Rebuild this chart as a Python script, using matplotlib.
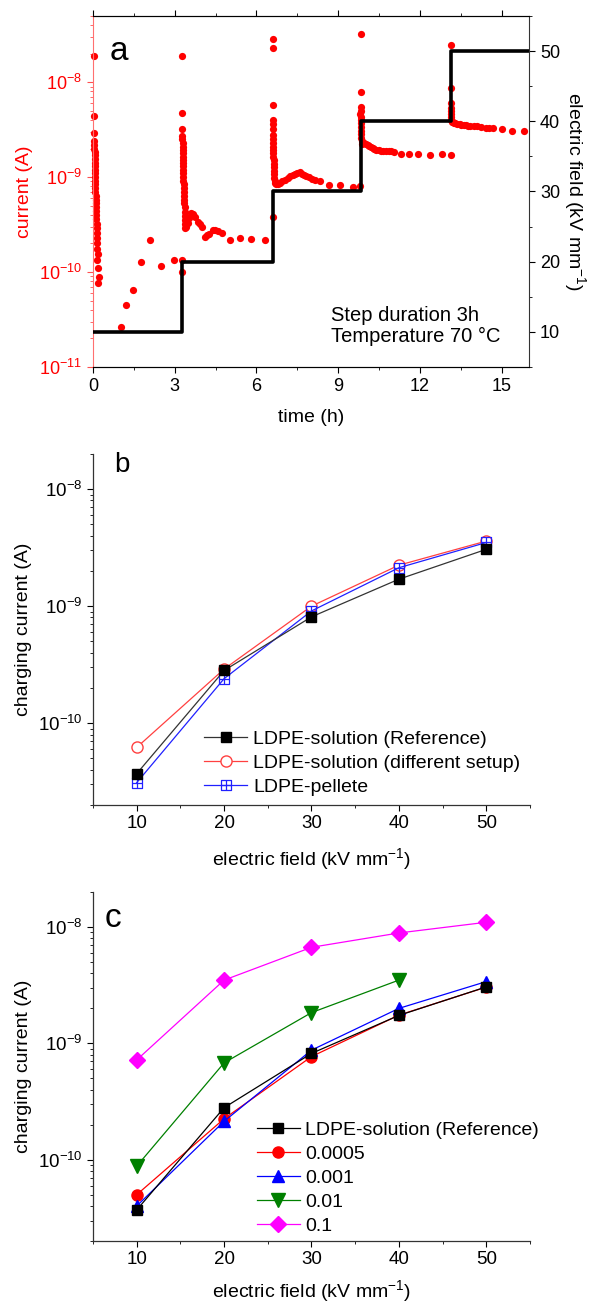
import numpy as np
import matplotlib
matplotlib.use('Agg')
import matplotlib.pyplot as plt
from matplotlib.path import Path
from matplotlib.ticker import MultipleLocator, LogLocator, NullFormatter

plt.rcParams['font.family'] = ['Liberation Sans', 'DejaVu Sans']
plt.rcParams['mathtext.fontset'] = 'custom'
plt.rcParams['mathtext.rm'] = 'Liberation Sans'
plt.rcParams['mathtext.it'] = 'Liberation Sans:italic'
plt.rcParams['mathtext.bf'] = 'Liberation Sans:bold'

# ---- panel a: current vs time ----
seg1_t = [0.03, 0.04, 0.04, 0.05, 0.05, 0.05, 0.06, 0.06, 0.06, 0.07, 0.07, 0.07,
          0.08, 0.08, 0.08, 0.09, 0.09, 0.09, 0.10, 0.10, 0.10, 0.11, 0.11, 0.12,
          0.12, 0.13, 0.13, 0.14, 0.14, 0.15, 0.16, 0.17, 0.15, 0.20, 0.23, 0.19,
          1.02, 1.21, 1.46, 1.75, 2.10, 2.50, 2.99, 3.26, 3.27]
seg1_i = [1.9e-8, 4.4e-9, 2.9e-9, 2.4e-9, 2.2e-9, 2.0e-9, 1.85e-9, 1.7e-9, 1.55e-9,
          1.42e-9, 1.3e-9, 1.2e-9, 1.1e-9, 1.0e-9, 9.2e-10, 8.4e-10, 7.7e-10, 7.0e-10,
          6.4e-10, 5.8e-10, 5.3e-10, 4.8e-10, 4.4e-10, 4.0e-10, 3.6e-10, 3.2e-10,
          2.9e-10, 2.6e-10, 2.3e-10, 2.0e-10, 1.74e-10, 1.55e-10, 1.35e-10, 1.1e-10,
          8.9e-11, 7.6e-11,
          2.65e-11, 4.5e-11, 6.4e-11, 1.27e-10, 2.2e-10, 1.17e-10, 1.34e-10, 1.35e-10, 1.0e-10]

seg2_t = [3.28, 3.28, 3.28,
          3.28, 3.28, 3.29, 3.29, 3.29, 3.30, 3.30, 3.30, 3.31, 3.31, 3.31, 3.32, 3.32,
          3.32, 3.33, 3.33, 3.34, 3.34, 3.35, 3.35, 3.36, 3.36, 3.37, 3.37, 3.38, 3.38,
          3.42, 3.47, 3.52, 3.60, 3.67, 3.75, 3.87, 3.94, 4.00, 4.12, 4.20, 4.26, 4.42,
          4.49, 4.60, 4.73, 5.04, 5.38, 5.81, 6.32, 6.59]
seg2_i = [1.9e-8, 4.7e-9, 3.2e-9,
          2.7e-9, 2.5e-9, 2.3e-9, 2.1e-9, 1.95e-9, 1.8e-9, 1.65e-9, 1.52e-9, 1.4e-9,
          1.3e-9, 1.2e-9, 1.1e-9, 1.0e-9, 9.2e-10, 8.4e-10, 7.7e-10, 7.0e-10, 6.4e-10,
          5.8e-10, 5.3e-10, 4.8e-10, 4.3e-10, 3.9e-10, 3.5e-10, 3.2e-10, 2.9e-10,
          3.0e-10, 3.3e-10, 3.7e-10, 4.2e-10, 4.1e-10, 3.8e-10, 3.4e-10, 3.2e-10, 2.95e-10,
          2.33e-10, 2.45e-10, 2.5e-10, 2.77e-10, 2.8e-10, 2.7e-10, 2.6e-10, 2.2e-10,
          2.3e-10, 2.25e-10, 2.2e-10, 3.8e-10]

seg3_t = [6.60, 6.60, 6.60, 6.60, 6.60, 6.60, 6.60,
          6.60, 6.60, 6.61, 6.61, 6.62, 6.62, 6.63, 6.63, 6.64, 6.64, 6.65, 6.66, 6.67, 6.68,
          6.72, 6.78, 6.88, 6.95, 7.06, 7.15, 7.24, 7.33, 7.43, 7.50, 7.58, 7.66, 7.73,
          7.82, 7.92, 8.04, 8.15, 8.32, 8.65, 9.06, 9.55, 9.80]
seg3_i = [2.84e-8, 2.32e-8, 5.8e-9, 4.0e-9, 3.6e-9, 3.2e-9, 2.8e-9,
          2.5e-9, 2.3e-9, 2.1e-9, 1.95e-9, 1.8e-9, 1.65e-9, 1.5e-9, 1.38e-9, 1.27e-9,
          1.17e-9, 1.07e-9, 9.8e-10, 9.0e-10, 8.6e-10,
          8.4e-10, 8.5e-10, 8.7e-10, 9.0e-10, 9.3e-10, 9.8e-10, 1.02e-9, 1.05e-9, 1.09e-9,
          1.1e-9, 1.12e-9, 1.08e-9, 1.05e-9, 1.02e-9, 1.0e-9, 9.6e-10, 9.4e-10, 9.1e-10,
          8.2e-10, 8.3e-10, 7.9e-10, 8.0e-10]

seg4_t = [9.83, 9.83, 9.82, 9.82, 9.81, 9.82, 9.83, 9.82, 9.83, 9.84, 9.84, 9.85, 9.86, 9.87,
          9.90, 9.96, 10.02, 10.08, 10.14, 10.20, 10.26, 10.32, 10.40, 10.48, 10.56, 10.65,
          10.75, 10.85, 10.95, 11.05, 11.29, 11.59, 11.94, 12.35, 12.80, 13.13]
seg4_i = [3.2e-8, 7.9e-9, 5.5e-9, 5.0e-9, 4.6e-9, 4.3e-9, 4.0e-9, 3.7e-9, 3.4e-9, 3.1e-9,
          2.85e-9, 2.6e-9, 2.4e-9, 2.25e-9,
          2.3e-9, 2.27e-9, 2.24e-9, 2.2e-9, 2.14e-9, 2.07e-9, 2.02e-9, 1.98e-9, 1.94e-9,
          1.91e-9, 1.9e-9, 1.89e-9, 1.89e-9, 1.88e-9, 1.88e-9, 1.86e-9, 1.74e-9, 1.74e-9,
          1.74e-9, 1.73e-9, 1.74e-9, 1.73e-9]

seg5_t = [13.12, 13.12, 13.12, 13.13, 13.13, 13.14, 13.14, 13.15, 13.16,
          13.20, 13.25, 13.30, 13.37, 13.45, 13.52, 13.60, 13.68, 13.76, 13.85, 13.98,
          14.10, 14.23, 14.41, 14.55, 14.69, 15.00, 15.36, 15.80]
seg5_i = [2.45e-8, 8.6e-9, 6.0e-9, 5.4e-9, 5.0e-9, 4.6e-9, 4.3e-9, 4.0e-9, 3.85e-9,
          3.8e-9, 3.75e-9, 3.7e-9, 3.67e-9, 3.62e-9, 3.58e-9, 3.55e-9, 3.52e-9, 3.5e-9,
          3.47e-9, 3.45e-9, 3.42e-9, 3.38e-9, 3.33e-9, 3.3e-9, 3.27e-9, 3.2e-9, 3.08e-9,
          3.08e-9]

# applied field steps
step_edges = [0, 3.27, 6.60, 9.82, 13.12, 16.0]
step_field = [10, 20, 30, 40, 50]

# ---- panels b and c: charging current vs field ----
field = [10, 20, 30, 40, 50]
ref_solution = [3.7e-11, 2.82e-10, 8.1e-10, 1.70e-9, 3.06e-9]
diff_setup = [6.2e-11, 2.9e-10, 1.0e-9, 2.24e-9, 3.6e-9]
pellete = [3.1e-11, 2.4e-10, 9.1e-10, 2.13e-9, 3.5e-9]

ref_c = [3.7e-11, 2.8e-10, 8.2e-10, 1.74e-9, 3.06e-9]
c_0005 = [5.0e-11, 2.25e-10, 7.7e-10, 1.75e-9, 3.05e-9]
c_001 = [4.0e-11, 2.14e-10, 8.75e-10, 2.0e-9, 3.4e-9]
field_001 = [10, 20, 30, 40]
c_01 = [8.8e-11, 6.8e-10, 1.84e-9, 3.5e-9]
c_1 = [7.2e-10, 3.5e-9, 6.7e-9, 8.9e-9, 1.1e-8]

RED = '#ff0000'


def style_axes(ax):
    ax.tick_params(which='major', direction='out', length=4.5, width=0.8, labelsize=13.5, pad=3)
    ax.tick_params(which='minor', direction='out', length=2.5, width=0.6)
    for s in ['left', 'bottom']:
        ax.spines[s].set_linewidth(0.9)
        ax.spines[s].set_color('#333333')
    ax.spines['top'].set_visible(False)
    ax.spines['right'].set_visible(False)


fig = plt.figure(figsize=(5.9, 13.04), dpi=100)

# ================= a =================
ax = fig.add_axes([0.1576, 0.7186, 0.7390, 0.2692])
ax2 = ax.twinx()
for t, i in [(seg1_t, seg1_i), (seg2_t, seg2_i), (seg3_t, seg3_i), (seg4_t, seg4_i), (seg5_t, seg5_i)]:
    ax.plot(t, i, 'o', color=RED, ms=5.2, mec=RED, mew=0, clip_on=False)
ax.set_yscale('log')
ax.set_ylim(1e-11, 5e-8)
ax.set_xlim(0, 16)
ax.xaxis.set_major_locator(MultipleLocator(3))
ax.xaxis.set_minor_locator(MultipleLocator(1.5))
ax.yaxis.set_major_locator(LogLocator(base=10, numticks=10))
ax.yaxis.set_minor_locator(LogLocator(base=10, subs=np.arange(2, 10), numticks=20))
ax.yaxis.set_minor_formatter(NullFormatter())
ax.tick_params(which='major', direction='out', length=4.5, width=0.8, labelsize=13, top=True)
ax.tick_params(which='minor', direction='out', length=2.5, width=0.6, top=True)
ax.tick_params(axis='y', which='both', colors='#ff5050', labelcolor=RED)
ax.spines['left'].set_color('#ff7070')
ax.spines['right'].set_visible(False)
for s in ['top', 'bottom']:
    ax.spines[s].set_color('#333333')
ax.set_ylabel('current (A)', color=RED, fontsize=14, labelpad=4)
ax.set_xlabel('time (h)', fontsize=14, labelpad=10)

ax2.step(step_edges, step_field + [step_field[-1]], where='post', color='black', lw=2.6)
ax2.set_ylim(5, 55)
ax2.yaxis.set_major_locator(MultipleLocator(10))
ax2.yaxis.set_minor_locator(MultipleLocator(5))
ax2.tick_params(which='major', direction='out', length=4.5, width=0.8, labelsize=13)
ax2.tick_params(which='minor', direction='out', length=2.5, width=0.6)
ax2.spines['left'].set_visible(False)
ax2.spines['right'].set_color('#333333')
ax2.set_ylabel('electric field (kV mm$^{-1}$)', fontsize=14, rotation=270, labelpad=20)
ax2.text(0.547, 0.175, 'Step duration 3h\nTemperature 70 °C', transform=ax2.transAxes,
         fontsize=14.5, ha='left', va='top', linespacing=1.15)
ax2.text(0.038, 0.873, 'a', transform=ax2.transAxes, fontsize=24, ha='left', va='baseline')

# ================= b =================
box_cross = Path([(-1, -1), (1, -1), (1, 1), (-1, 1), (-1, -1), (0, -1), (0, 1), (-1, 0), (1, 0)],
                 [Path.MOVETO, Path.LINETO, Path.LINETO, Path.LINETO, Path.CLOSEPOLY,
                  Path.MOVETO, Path.LINETO, Path.MOVETO, Path.LINETO])

bx = fig.add_axes([0.1576, 0.3827, 0.7407, 0.2692])
bx.plot(field, ref_solution, '-s', color='#333333', mfc='black', mec='black', ms=7.5, lw=0.9,
        label='LDPE-solution (Reference)', zorder=5)
bx.plot(field, diff_setup, '-o', color='#ff4040', mfc='white', mec='#ff4040', ms=8, lw=0.9,
        label='LDPE-solution (different setup)', zorder=3)
bx.plot(field, pellete, '-', marker=box_cross, color='#2020ff', mfc='none', mec='#2020ff', ms=7,
        mew=0.9, lw=0.9, label='LDPE-pellete', zorder=4)
bx.set_yscale('log')
bx.set_ylim(2e-11, 2e-8)
bx.set_xlim(5, 55)
bx.xaxis.set_major_locator(MultipleLocator(10))
bx.xaxis.set_minor_locator(MultipleLocator(5))
bx.yaxis.set_major_locator(LogLocator(base=10, numticks=10))
bx.yaxis.set_minor_locator(LogLocator(base=10, subs=np.arange(2, 10), numticks=20))
bx.yaxis.set_minor_formatter(NullFormatter())
style_axes(bx)
bx.set_ylabel('charging current (A)', fontsize=14, labelpad=4)
bx.set_xlabel('electric field (kV mm$^{-1}$)', fontsize=14, labelpad=10)
bx.legend(loc='upper left', bbox_to_anchor=(0.255, 0.212), frameon=False, fontsize=14,
          handlelength=2.2, handletextpad=0.3, labelspacing=0.33, borderpad=0, borderaxespad=0)
bx.text(0.048, 0.949, 'b', transform=bx.transAxes, fontsize=20, ha='left', va='baseline')

# ================= c =================
cx = fig.add_axes([0.1576, 0.0483, 0.7407, 0.2676])
cx.plot(field, ref_c, '-s', color='black', ms=7.5, lw=0.9, label='LDPE-solution (Reference)', zorder=6)
cx.plot(field, c_0005, '-o', color='#ff0000', ms=8, lw=0.9, label='0.0005', zorder=3)
cx.plot(field, c_001, '-^', color='#0000ff', ms=9, lw=0.9, label='0.001', zorder=4)
cx.plot(field_001, c_01, '-v', color='#008000', ms=9.5, lw=0.9, label='0.01', zorder=3)
cx.plot(field, c_1, '-D', color='#ff00ff', ms=8.3, lw=0.9, label='0.1', zorder=3)
cx.set_yscale('log')
cx.set_ylim(2e-11, 2e-8)
cx.set_xlim(5, 55)
cx.xaxis.set_major_locator(MultipleLocator(10))
cx.xaxis.set_minor_locator(MultipleLocator(5))
cx.yaxis.set_major_locator(LogLocator(base=10, numticks=10))
cx.yaxis.set_minor_locator(LogLocator(base=10, subs=np.arange(2, 10), numticks=20))
cx.yaxis.set_minor_formatter(NullFormatter())
style_axes(cx)
cx.set_ylabel('charging current (A)', fontsize=14, labelpad=4)
cx.set_xlabel('electric field (kV mm$^{-1}$)', fontsize=14, labelpad=7)
cx.legend(loc='upper left', bbox_to_anchor=(0.375, 0.343), frameon=False, fontsize=14,
          handlelength=2.2, handletextpad=0.3, labelspacing=0.33, borderpad=0, borderaxespad=0)
cx.text(0.027, 0.90, 'c', transform=cx.transAxes, fontsize=24, ha='left', va='baseline')

fig.savefig('out.png', dpi=100)
